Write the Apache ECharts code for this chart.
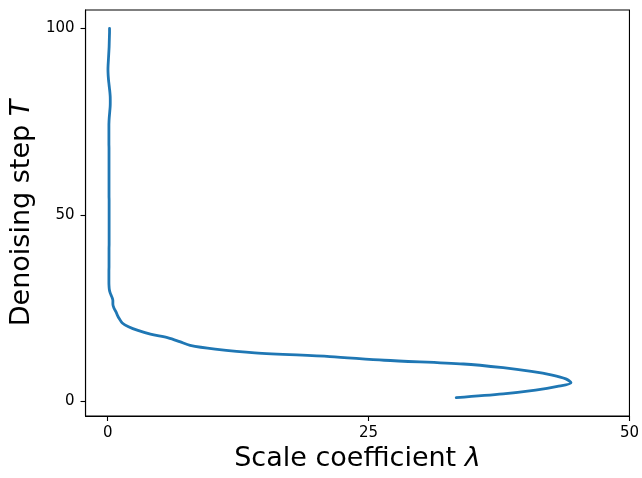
<!DOCTYPE html>
<html>
<head>
<meta charset="utf-8">
<script src="https://cdn.jsdelivr.net/npm/echarts@6/dist/echarts.min.js"></script>
<style>html,body{margin:0;padding:0;background:#fff}#c{width:642px;height:478px}</style>
</head>
<body>
<div id="c"></div>
<script>
const steps = Array.from({length: 100}, (_, i) => i + 1);
const lambdaValues = [
  33.4, 37.9, 41.0, 43.1, 44.4, 43.9, 42.6, 40.6, 37.9, 34.1,
  26.5, 21.3, 14.1, 10.3, 7.9, 6.9, 5.8, 4.1, 2.9, 2.0,
  1.4, 1.15, 0.95, 0.8, 0.6, 0.5, 0.5, 0.4, 0.25, 0.16,
  0.13, 0.12, 0.12, 0.12, 0.12, 0.13, 0.13, 0.13, 0.13, 0.13,
  0.13, 0.14, 0.14, 0.14, 0.14, 0.14, 0.14, 0.14, 0.14, 0.14,
  0.14, 0.14, 0.14, 0.14, 0.13, 0.13, 0.13, 0.13, 0.13, 0.13,
  0.13, 0.13, 0.13, 0.13, 0.13, 0.13, 0.13, 0.13, 0.12, 0.12,
  0.12, 0.12, 0.12, 0.12, 0.13, 0.15, 0.18, 0.21, 0.24, 0.25,
  0.25, 0.24, 0.21, 0.17, 0.13, 0.09, 0.06, 0.04, 0.03, 0.04,
  0.06, 0.08, 0.1, 0.12, 0.14, 0.15, 0.16, 0.17, 0.18, 0.18
];
const xTicks = [0, 25, 50];
const yTicks = [0, 50, 100];

const chart = echarts.init(document.getElementById('c'), null, {renderer: 'canvas'});
const font = 'DejaVu Sans';
const titleRich = {
  a: {fontFamily: font, fontSize: 27, color: '#000'},
  b: {fontFamily: font, fontSize: 27, fontStyle: 'italic', color: '#000'}
};
chart.setOption({
  animation: false,
  backgroundColor: '#fff',
  grid: {left: 85, right: 12, top: 10, bottom: 62, show: true, borderColor: '#000', borderWidth: 1.1, backgroundColor: 'transparent'},
  xAxis: {
    type: 'value', min: -2.12, max: 50,
    name: '{a|Scale coefficient }{b|λ}', nameLocation: 'middle', nameGap: 27,
    nameTextStyle: {rich: titleRich},
    axisLine: {show: true, onZero: false, lineStyle: {color: '#000', width: 1.1}},
    axisTick: {show: true, length: 5, customValues: xTicks, lineStyle: {color: '#000', width: 1.1}},
    axisLabel: {customValues: xTicks, fontFamily: font, fontSize: 15, color: '#000', margin: 10},
    splitLine: {show: false}
  },
  yAxis: {
    type: 'value', min: -3.95, max: 104.95,
    name: '{a|Denoising step }{b|T}', nameLocation: 'middle', nameGap: 45, nameRotate: 90,
    nameTextStyle: {rich: titleRich},
    axisLine: {show: true, onZero: false, lineStyle: {color: '#000', width: 1.1}},
    axisTick: {show: true, length: 5, customValues: yTicks, lineStyle: {color: '#000', width: 1.1}},
    axisLabel: {customValues: yTicks, fontFamily: font, fontSize: 15, color: '#000', margin: 11},
    splitLine: {show: false}
  },
  series: [{
    type: 'line',
    data: steps.map((t, i) => [lambdaValues[i], t]),
    showSymbol: false,
    smooth: 0.3,
    lineStyle: {color: '#1f77b4', width: 2.8, cap: 'round', join: 'round'},
    itemStyle: {color: '#1f77b4'}
  }]
});
</script>
</body>
</html>
